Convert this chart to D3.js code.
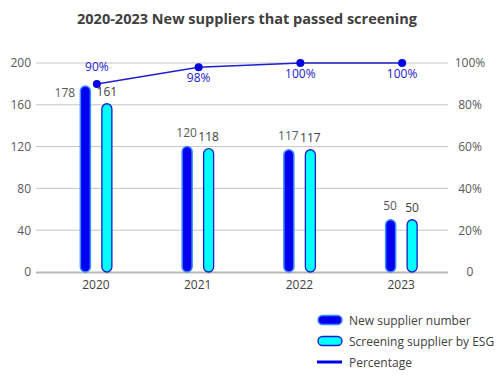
<!DOCTYPE html>
<html><head><meta charset="utf-8">
<script src="https://cdn.jsdelivr.net/npm/d3@7"></script>
<style>body{margin:0;background:#fff}svg{display:block}</style>
</head><body>
<svg id="c" width="502" height="378"></svg>
<script>
const title = "2020-2023 New suppliers that passed screening";
const years = ["2020","2021","2022","2023"];
const newSuppliers = [178,120,117,50];
const screened = [161,118,117,50];
const percentage = [90,98,100,100];
const leftTicks = [0,40,80,120,160,200];
const rightTicks = [0,20,40,60,80,100];
const seriesNames = ["New supplier number","Screening supplier by ESG","Percentage"];

const svg = d3.select("#c");
const font = "'Open Sans','Noto Sans',sans-serif";
const plotL = 36, plotR = 448, plotTop = 63, plotBottom = 272;

const x = d3.scaleBand().domain(years).range([45, 452]).padding(0);
const yL = d3.scaleLinear().domain([0,200]).range([plotBottom, plotTop]);
const yR = d3.scaleLinear().domain([0,100]).range([plotBottom, plotTop]);

svg.append("text").attr("x",247).attr("y",24).attr("text-anchor","middle")
  .attr("font-family",font).attr("font-weight","bold").attr("font-size",14.5)
  .attr("fill","#404040").text(title);

// gridlines
svg.append("g").selectAll("line").data(leftTicks.filter(d=>d>0)).join("line")
  .attr("x1",plotL).attr("x2",plotR).attr("y1",d=>yL(d)).attr("y2",d=>yL(d))
  .attr("stroke","#c4c4c4").attr("stroke-width",1);
svg.append("line").attr("x1",plotL).attr("x2",plotR).attr("y1",plotBottom+0.5).attr("y2",plotBottom+0.5)
  .attr("stroke","#b8b8b8").attr("stroke-width",2);

// left axis
const gl = svg.append("g").attr("transform",`translate(${plotL},0)`)
  .call(d3.axisLeft(yL).tickValues(leftTicks).tickSize(0).tickPadding(5));
gl.select(".domain").remove();
gl.selectAll("text").attr("font-family",font).attr("font-size",12).attr("fill","#595959");
// right axis
const gr = svg.append("g").attr("transform",`translate(${plotR},0)`)
  .call(d3.axisRight(yR).tickValues(rightTicks).tickSize(0).tickPadding(22).tickFormat(d=>d===0?"0":d+"%"));
gr.select(".domain").remove();
gr.selectAll("text").attr("font-family",font).attr("font-size",12).attr("fill","#595959").attr("text-anchor","middle");
// bottom axis
const gb = svg.append("g").attr("transform",`translate(0,${plotBottom})`)
  .call(d3.axisBottom(x).tickSize(0).tickPadding(8));
gb.select(".domain").remove();
gb.selectAll("text").attr("font-family",font).attr("font-size",12).attr("fill","#404040");

const bw = 10, off = 11;
// bars
svg.append("g").selectAll("rect").data(newSuppliers).join("rect")
  .attr("x",(d,i)=>x(years[i])+x.bandwidth()/2-off-bw/2+0.5)
  .attr("y",d=>yL(d)).attr("width",bw).attr("height",d=>plotBottom-yL(d))
  .attr("rx",5).attr("fill","#0000f0").attr("stroke","#3d8cff").attr("stroke-width",1.5);
svg.append("g").selectAll("rect").data(screened).join("rect")
  .attr("x",(d,i)=>x(years[i])+x.bandwidth()/2+off-bw/2)
  .attr("y",d=>yL(d)).attr("width",bw).attr("height",d=>plotBottom-yL(d))
  .attr("rx",5).attr("fill","#00ffff").attr("stroke","#1a1acc").attr("stroke-width",1.3);

// bar labels
svg.append("g").selectAll("text").data(newSuppliers).join("text")
  .attr("x",(d,i)=> i===0 ? x(years[i])+x.bandwidth()/2-off-20 : x(years[i])+x.bandwidth()/2-off)
  .attr("y",(d,i)=> i===0 ? yL(d)+11 : yL(d)-10)
  .attr("text-anchor","middle").attr("font-family",font).attr("font-size",12).attr("fill","#595959")
  .text(d=>d);
svg.append("g").selectAll("text").data(screened).join("text")
  .attr("x",(d,i)=>x(years[i])+x.bandwidth()/2+off)
  .attr("y",d=>yL(d)-8)
  .attr("text-anchor","middle").attr("font-family",font).attr("font-size",12).attr("fill","#404040")
  .text(d=>d);

// line
const cx = (d,i)=>x(years[i])+x.bandwidth()/2+1;
svg.append("path").datum(percentage)
  .attr("d",d3.line().x(cx).y(d=>yR(d)))
  .attr("fill","none").attr("stroke","#1f1fcc").attr("stroke-width",1.5);
svg.append("g").selectAll("circle").data(percentage).join("circle")
  .attr("cx",cx).attr("cy",d=>yR(d)).attr("r",4).attr("fill","#0000e0");
svg.append("g").selectAll("text").data(percentage).join("text")
  .attr("x",cx).attr("y",(d,i)=> i===0 ? yR(d)-13 : yR(d)+15)
  .attr("text-anchor","middle").attr("font-family",font).attr("font-size",12).attr("fill","#1a1acc")
  .text(d=>d+"%");

// legend
const lg = svg.append("g");
const ly = [320,341,362];
lg.append("rect").attr("x",318).attr("y",ly[0]-4.5).attr("width",24).attr("height",9).attr("rx",4.5)
  .attr("fill","#0000f0").attr("stroke","#3d8cff").attr("stroke-width",1.5);
lg.append("rect").attr("x",318).attr("y",ly[1]-4.5).attr("width",24).attr("height",9).attr("rx",4.5)
  .attr("fill","#00ffff").attr("stroke","#1a1acc").attr("stroke-width",1.3);
lg.append("line").attr("x1",317).attr("x2",342).attr("y1",ly[2]).attr("y2",ly[2])
  .attr("stroke","#0000e0").attr("stroke-width",3);
lg.selectAll("text").data(seriesNames).join("text")
  .attr("x",349).attr("y",(d,i)=>ly[i]+4.5).attr("font-family",font).attr("font-size",12)
  .attr("fill","#404040").text(d=>d);
</script>
</body></html>
